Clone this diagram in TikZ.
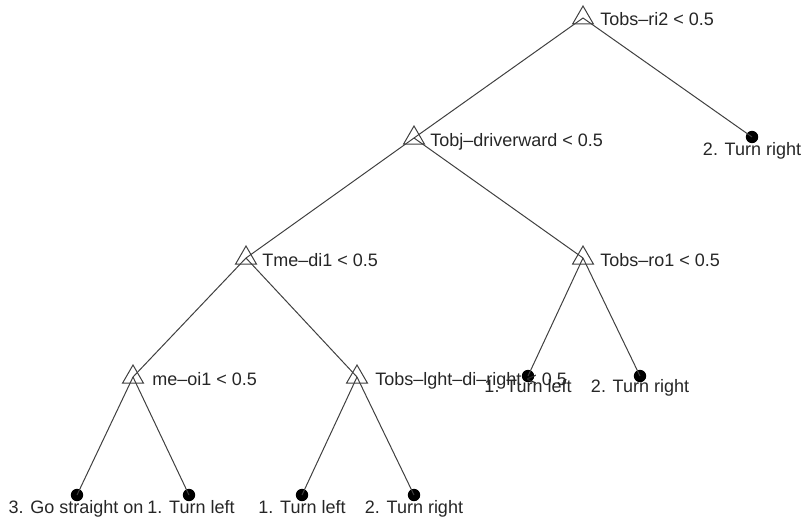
\documentclass[tikz,border=0pt]{standalone}
\usepackage{fontspec}
\setmainfont{Liberation Sans}
\usetikzlibrary{shapes.geometric}

\begin{document}
\begin{tikzpicture}[
    x=0.5pt, y=-0.5pt,
    split/.style={regular polygon, regular polygon sides=3, draw=black!75, line width=0.5pt, minimum size=12pt, inner sep=0pt},
    leaf/.style={circle, fill=black, minimum size=6.2pt, inner sep=0pt},
    rule/.style={anchor=base west, inner sep=0pt, text=black!85, font=\fontsize{9}{10}\selectfont},
    answer/.style={anchor=base, inner sep=0pt, text=black!85, font=\fontsize{9}{10}\selectfont},
    branch/.style={draw=black!75, line width=0.5pt}
]
\useasboundingbox (0,0) rectangle (801,519);

% Split nodes
\node[split] (root) at (583,18) {};
\node[split] (tobj) at (414,138) {};
\node[split] (tme) at (246,258) {};
\node[split] (ro1) at (583,258) {};
\node[split] (meoi) at (133,377) {};
\node[split] (lght) at (357,377) {};

% Leaves
\node[leaf] (right1) at (752,137) {};
\node[leaf] (left2) at (528,376) {};
\node[leaf] (right2) at (640,376) {};
\node[leaf] (straight3) at (77,495) {};
\node[leaf] (left3) at (189,495) {};
\node[leaf] (left4) at (302,495) {};
\node[leaf] (right4) at (414,495) {};

% Branches
\draw[branch] (root.center) -- (tobj.center);
\draw[branch] (root.center) -- (right1.center);
\draw[branch] (tobj.center) -- (tme.center);
\draw[branch] (tobj.center) -- (ro1.center);
\draw[branch] (ro1.center) -- (left2.center);
\draw[branch] (ro1.center) -- (right2.center);
\draw[branch] (tme.center) -- (meoi.center);
\draw[branch] (tme.center) -- (lght.center);
\draw[branch] (meoi.center) -- (straight3.center);
\draw[branch] (meoi.center) -- (left3.center);
\draw[branch] (lght.center) -- (left4.center);
\draw[branch] (lght.center) -- (right4.center);

% Split rules
\node[rule] (troot) at (600,26) {Tobs–ri2 < 0.5};
\node[rule] (ttobj) at (430,146) {Tobj–driverward < 0.5};
\node[rule] (ttme) at (262,266) {Tme–di1 < 0.5};
\node[rule] (tro1) at (600,266) {Tobs–ro1 < 0.5};
\node[rule] (tmeoi) at (152,385) {me–oi1 < 0.5};
\node[rule] (tlght) at (375,385) {Tobs–lght–di–right < 0.5};

% Leaf labels
\node[answer] (tright1) at (752,155) {2. Turn right};
\node[answer] (tleft2) at (528,392) {1. Turn left};
\node[answer] (tright2) at (640,392) {2. Turn right};
\node[answer] (tstraight3) at (76,513) {3. Go straight on};
\node[answer] (tleft3) at (191,513) {1. Turn left};
\node[answer] (tleft4) at (302,513) {1. Turn left};
\node[answer] (tright4) at (414,513) {2. Turn right};

\end{tikzpicture}
\end{document}
